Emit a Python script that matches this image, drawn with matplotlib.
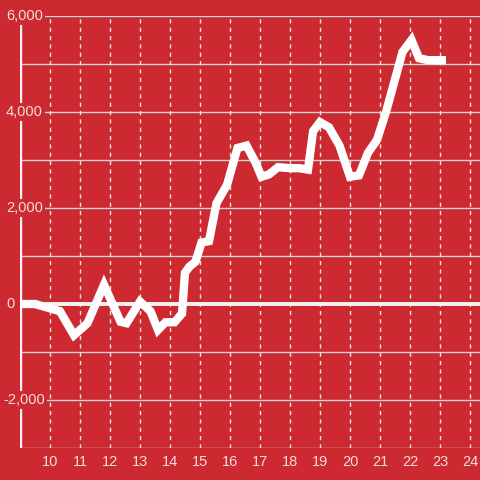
import matplotlib
matplotlib.use('Agg')
import matplotlib.pyplot as plt
import matplotlib.transforms as mtransforms

# Line data (hour of day vs. cumulative value)
hours = [9.0, 9.5, 10.33, 10.8, 11.25, 11.8, 12.35, 12.55, 13.0, 13.35,
         13.6, 13.85, 14.15, 14.4, 14.5, 14.65, 14.85, 15.05, 15.3, 15.55,
         15.9, 16.25, 16.55, 16.85, 17.05, 17.3, 17.6, 18.0, 18.3, 18.6,
         18.77, 19.0, 19.3, 19.65, 20.0, 20.3, 20.6, 20.9, 21.2, 21.75,
         22.05, 22.3, 22.6, 23.2]
values = [0, 0, -150, -650, -400, 400, -370, -400, 50, -150,
          -540, -380, -380, -200, 650, 780, 880, 1280, 1310, 2100,
          2480, 3250, 3300, 2950, 2650, 2700, 2850, 2830, 2830, 2800,
          3600, 3790, 3680, 3300, 2650, 2680, 3150, 3420, 4000, 5250,
          5500, 5120, 5080, 5080]

x_ticks = list(range(10, 25))
y_labels = [6000, 4000, 2000, 0, -2000]

bg = '#cc2a30'
label_color = '#f3dcdc'

fig = plt.figure(figsize=(4.8, 4.8), dpi=100, facecolor=bg)
ax = fig.add_axes([20 / 480, 32 / 480, 460 / 480, 432 / 480])
ax.set_facecolor(bg)
ax.set_xlim(9, 9 + 460 / 30)
ax.set_ylim(-3000, 6000)

# grid
for yv in range(-3000, 6001, 1000):
    ax.axhline(yv, color='#d4d4d4', lw=1, zorder=1)
for xv in x_ticks:
    ax.axvline(xv, color='#e6e6e6', lw=1, linestyle=(0, (3, 3)), zorder=1)

# zero line and left axis line
ax.axhline(0, color='#f4f4f4', lw=2.8, zorder=2)
ax.axvline(9, color='#f4f4f4', lw=2.4, zorder=2)

ax.plot(hours, values, color='white', lw=6, solid_joinstyle='miter',
        solid_capstyle='butt', zorder=3)

for s in ax.spines.values():
    s.set_visible(False)

ax.set_xticks(x_ticks)
ax.set_xticklabels([str(t) for t in x_ticks])
ax.tick_params(axis='x', length=0, pad=5, colors=label_color, labelsize=10.5)
ax.set_yticks([])

for lab in ax.get_xticklabels():
    lab.set_fontfamily('Liberation Sans')

# y labels drawn over the axis line with a red box
trans = mtransforms.blended_transform_factory(fig.transFigure, ax.transData)
for yv in y_labels:
    ax.text(6 / 480 if yv >= 0 else 3 / 480, yv, f'{yv:,}', transform=trans,
            ha='left', va='center',
            color=label_color, fontsize=10.5, family='Liberation Sans',
            zorder=5, clip_on=False,
            bbox=dict(facecolor=bg, edgecolor='none', pad=1.5))

fig.savefig('out.png', dpi=100, facecolor=bg)
